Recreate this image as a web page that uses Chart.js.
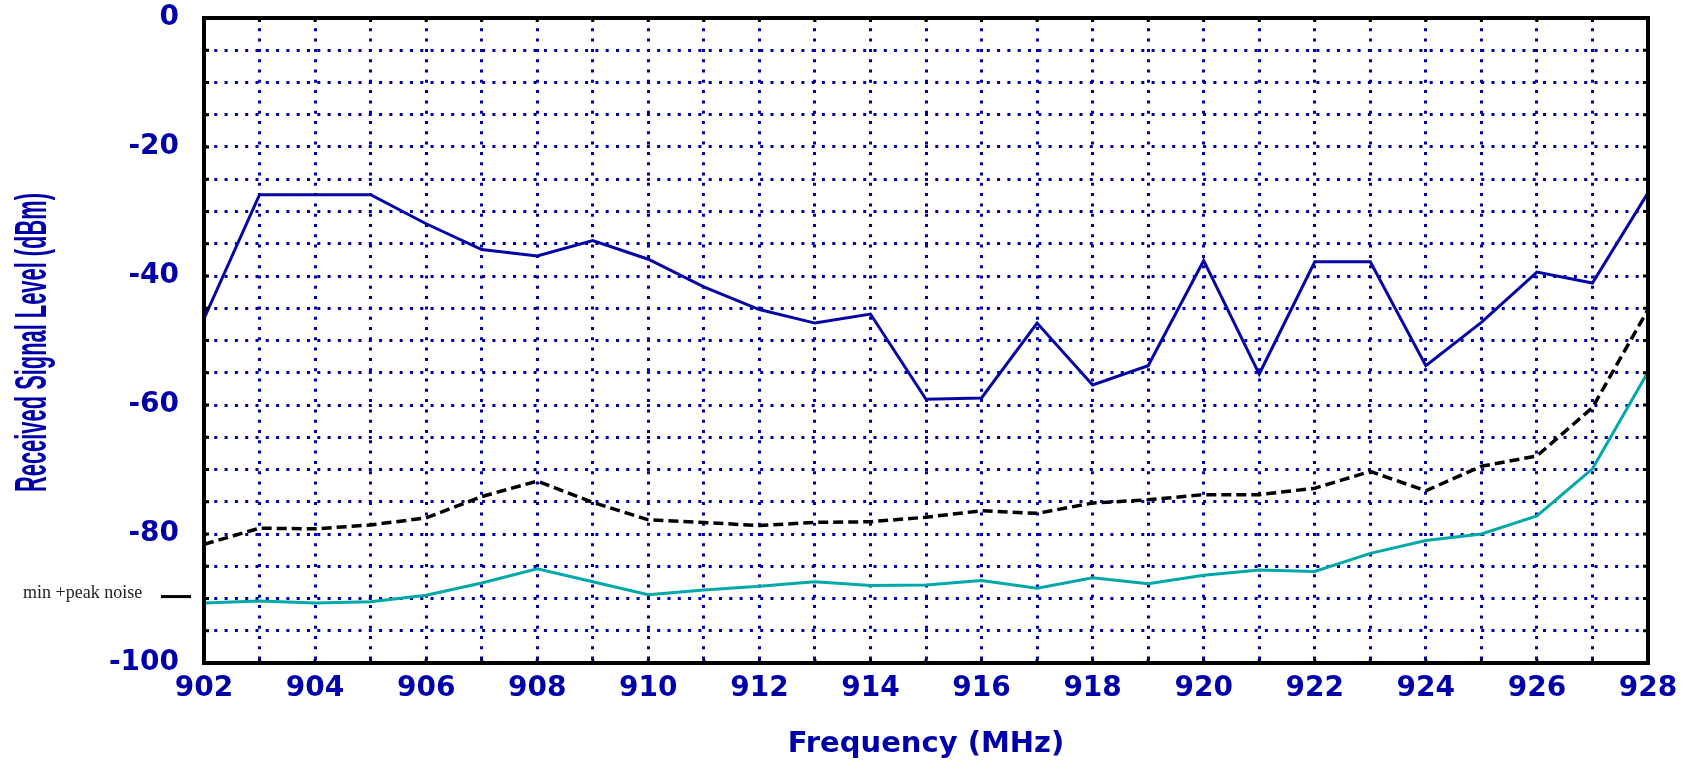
<!DOCTYPE html>
<html>
<head>
<meta charset="utf-8">
<script src="https://cdn.jsdelivr.net/npm/chart.js@4"></script>
<style>
  body { margin: 0; background: #fff; }
  #wrap { width: 1696px; height: 762px; position: relative; }
</style>
</head>
<body>
<div id="wrap"><canvas id="signalChart"></canvas></div>
<script>
// Frequencies (MHz)
const frequencies = [902, 903, 904, 905, 906, 907, 908, 909, 910, 911, 912, 913, 914, 915,
                     916, 917, 918, 919, 920, 921, 922, 923, 924, 925, 926, 927, 928];

// Received signal level (dBm)
const signalLevel = [-46.6, -27.4, -27.4, -27.4, -31.9, -35.9, -36.9, -34.5, -37.4, -41.7, -45.2, -47.3, -45.9, -59.1,
                     -58.9, -47.3, -56.9, -53.9, -37.6, -55.2, -37.8, -37.8, -53.9, -47.2, -39.4, -41.1, -27.1];

// dashed black trace
const peakNoise = [-81.6, -79.1, -79.2, -78.6, -77.5, -74.2, -71.8, -75.1, -77.8, -78.2, -78.7, -78.2, -78.1, -77.4,
                   -76.4, -76.8, -75.2, -74.7, -73.9, -73.9, -72.9, -70.3, -73.3, -69.5, -67.9, -60.4, -45.2];

// teal trace
const minNoise = [-90.7, -90.4, -90.7, -90.5, -89.5, -87.6, -85.4, -87.4, -89.4, -88.7, -88.1, -87.4, -88.0, -87.9,
                  -87.2, -88.4, -86.8, -87.7, -86.4, -85.6, -85.8, -83.0, -81.0, -80.0, -77.2, -69.9, -54.9];

const yLabelValues = [0, -20, -40, -60, -80, -100];
const xLabelValues = [902, 904, 906, 908, 910, 912, 914, 916, 918, 920, 922, 924, 926, 928];
const noiseMarkLevel = -89.7;

const BLUE = '#0000aa';

function toPoints(values) {
    return frequencies.map((f, i) => ({ x: f, y: values[i] }));
}

// frame, inner tick marks, rotated y title and the noise marker
const framePlugin = {
    id: 'frame',
    afterDatasetsDraw(chart) {
        const { ctx, chartArea: a, scales } = chart;
        ctx.save();
        ctx.strokeStyle = '#000';
        ctx.lineWidth = 3;
        scales.y.ticks.forEach(t => {
            const y = scales.y.getPixelForValue(t.value);
            ctx.beginPath();
            ctx.moveTo(a.left, y); ctx.lineTo(a.left + 5, y);
            ctx.moveTo(a.right - 5, y); ctx.lineTo(a.right, y);
            ctx.stroke();
        });
        scales.x.ticks.forEach(t => {
            const x = scales.x.getPixelForValue(t.value);
            ctx.beginPath();
            ctx.moveTo(x, a.bottom); ctx.lineTo(x, a.bottom - 4);
            ctx.moveTo(x, a.top); ctx.lineTo(x, a.top + 4);
            ctx.stroke();
        });
        ctx.lineWidth = 4;
        ctx.strokeRect(a.left, a.top, a.right - a.left, a.bottom - a.top);
        ctx.restore();
    },
    afterDraw(chart) {
        const { ctx, chartArea: a, scales } = chart;
        ctx.save();
        // condensed vertical axis title
        const title = 'Received Signal Level (dBm)';
        ctx.font = 'bold 44px "Liberation Sans", Arial, sans-serif';
        const w = ctx.measureText(title).width;
        ctx.translate(46, (a.top + a.bottom) / 2 + 2);
        ctx.rotate(-Math.PI / 2);
        ctx.scale(299 / w, 1);
        ctx.fillStyle = BLUE;
        ctx.textAlign = 'center';
        ctx.textBaseline = 'alphabetic';
        ctx.fillText(title, 0, 0);
        ctx.restore();

        // noise marker
        const ny = scales.y.getPixelForValue(noiseMarkLevel);
        ctx.save();
        ctx.fillStyle = '#222';
        ctx.font = '18px "Liberation Serif", "Times New Roman", serif';
        ctx.textBaseline = 'middle';
        ctx.fillText('min +peak noise', 23, ny - 3);
        ctx.strokeStyle = '#000';
        ctx.lineWidth = 3;
        ctx.beginPath();
        ctx.moveTo(161, ny);
        ctx.lineTo(191, ny);
        ctx.stroke();
        ctx.restore();
    }
};

const ctx = document.getElementById('signalChart').getContext('2d');
new Chart(ctx, {
    type: 'line',
    data: {
        datasets: [
            {
                label: 'min noise',
                data: toPoints(minNoise),
                borderColor: '#00a8a8',
                borderWidth: 3,
                pointRadius: 0,
                tension: 0
            },
            {
                label: 'peak noise',
                data: toPoints(peakNoise),
                borderColor: '#000',
                borderWidth: 3.5,
                borderDash: [10, 5],
                pointRadius: 0,
                tension: 0
            },
            {
                label: 'signal',
                data: toPoints(signalLevel),
                borderColor: '#0505a5',
                borderWidth: 3,
                pointRadius: 0,
                tension: 0
            }
        ]
    },
    options: {
        responsive: true,
        maintainAspectRatio: false,
        animation: false,
        layout: { padding: { top: 18, right: 48, left: 0, bottom: 0 } },
        plugins: {
            legend: { display: false },
            tooltip: { enabled: false }
        },
        scales: {
            x: {
                type: 'linear',
                min: 902,
                max: 928,
                afterFit: s => { s.height = 99; s.paddingLeft = 0; s.paddingRight = 0; },
                border: { display: false, dash: [3, 7.3] },
                grid: { color: BLUE, lineWidth: 3, drawTicks: false },
                ticks: {
                    stepSize: 1,
                    autoSkip: false,
                    maxRotation: 0,
                    padding: 9,
                    color: BLUE,
                    font: { family: 'DejaVu Sans', size: 28, weight: 'bold' },
                    callback: v => xLabelValues.includes(v) ? String(v) : ''
                },
                title: {
                    display: true,
                    text: 'Frequency (MHz)',
                    color: BLUE,
                    font: { family: 'DejaVu Sans', size: 29, weight: 'bold' },
                    padding: { top: 0, bottom: 0 }
                }
            },
            y: {
                min: -100,
                max: 0,
                afterFit: s => { s.width = 204; s.paddingTop = 0; s.paddingBottom = 0; },
                border: { display: false, dash: [3, 7.3] },
                grid: { color: BLUE, lineWidth: 3, drawTicks: false },
                ticks: {
                    stepSize: 5,
                    autoSkip: false,
                    padding: 25,
                    color: BLUE,
                    font: { family: 'DejaVu Sans', size: 28, weight: 'bold' },
                    callback: v => yLabelValues.includes(v) ? String(v) : ''
                }
            }
        }
    },
    plugins: [framePlugin]
});
</script>
</body>
</html>
